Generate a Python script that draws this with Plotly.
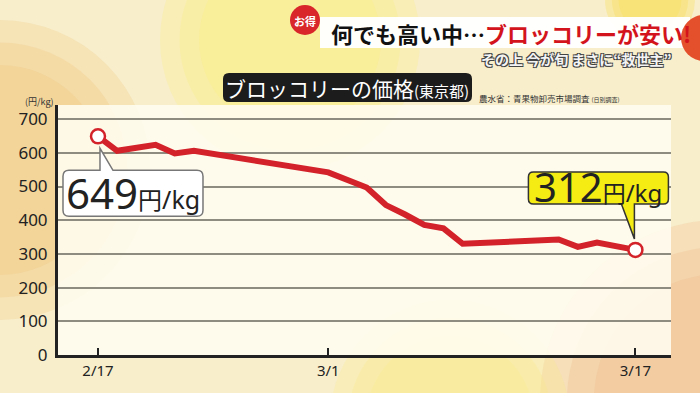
import plotly.graph_objects as go

# ---------------- data ----------------
dates = ["2025-02-17", "2025-02-18", "2025-02-20", "2025-02-21", "2025-02-22",
         "2025-03-01", "2025-03-03", "2025-03-04", "2025-03-05", "2025-03-06",
         "2025-03-07", "2025-03-08", "2025-03-13", "2025-03-14", "2025-03-15",
         "2025-03-17"]
prices = [649, 606, 624, 598, 606, 542, 497, 445, 417, 386, 376, 330, 343, 321, 334, 312]
x_tickvals = ["2025-02-17", "2025-03-01", "2025-03-17"]
x_ticktext = ["2/17", "3/1", "3/17"]
y_tickvals = [0, 100, 200, 300, 400, 500, 600, 700]
y_ticktext = ["0", "100", "200", "300", "400", "500", "600", "700"]

title_text = "ブロッコリーの価格"
title_sub = "(東京都)"
source_text = "農水省：青果物卸売市場調査"
source_sub = "(日別調査)"
unit_text = "(円/kg)"
head_black = "何でも高い中…"
head_red = "ブロッコリーが安い!"
badge_text = "お得"
subhead = "その上 今が旬 まさに“救世主”"
unit_label = "円/kg"

JP = "Noto Sans CJK JP"
NUM = "Noto Sans"
RED = "#d3222a"

# plot area in pixels
L, R, T, B = 58, 671, 105, 355
W, H = R - L, B - T


def pxx(x):
    return (x - L) / W


def pxy(y):
    return (B - y) / H


def rrect(x0, y0, x1, y1, r):
    return (f"M{x0+r},{y1} L{x1-r},{y1} Q{x1},{y1} {x1},{y1-r} L{x1},{y0+r} "
            f"Q{x1},{y0} {x1-r},{y0} L{x0+r},{y0} Q{x0},{y0} {x0},{y0+r} "
            f"L{x0},{y1-r} Q{x0},{y1} {x0+r},{y1} Z")


def pshape(path, fill, line_color=None, line_w=0, layer="below"):
    return dict(type="path", xref="paper", yref="paper", xsizemode="pixel", ysizemode="pixel",
                xanchor=0, yanchor=0, path=path, fillcolor=fill, layer=layer,
                line=dict(color=line_color or fill, width=line_w))


def circ(cx, cy, r, fill, layer="below"):
    X, Y = cx - L, B - cy
    return dict(type="circle", xref="paper", yref="paper", xsizemode="pixel", ysizemode="pixel",
                xanchor=0, yanchor=0, x0=X - r, x1=X + r, y0=Y - r, y1=Y + r,
                fillcolor=fill, line=dict(width=0), layer=layer)


def soft(cx, cy, r, rgb, a):
    # soft-edged blob from stacked translucent circles
    return [circ(cx, cy, r * k, f"rgba({rgb},{a})") for k in (1.0, 0.85, 0.7)]


def jp_ann(x, y, text, size, color, **kw):
    # CJK font metrics push text down; compensate with a yshift
    d = dict(xref="paper", yref="paper", x=pxx(x), y=pxy(y), text=text, showarrow=False,
             yshift=round(0.8 * size), font=dict(family=JP, color=color, size=size))
    d.update(kw)
    return d


fig = go.Figure()
fig.add_trace(go.Scatter(x=dates, y=prices, mode="lines",
                         line=dict(color=RED, width=6), hoverinfo="skip"))
fig.add_trace(go.Scatter(x=[dates[0], dates[-1]], y=[prices[0], prices[-1]], mode="markers",
                         marker=dict(size=14, color="white", line=dict(color=RED, width=2.5)),
                         hoverinfo="skip"))

shapes = []
# background bokeh
shapes += soft(0, 170, 150, "240,196,120", 0.25)
shapes += soft(290, 40, 130, "250,240,120", 0.25)
shapes += soft(720, 400, 180, "238,180,130", 0.25)
shapes += soft(450, 420, 120, "250,236,130", 0.25)
shapes += soft(650, 0, 45, "250,222,80", 0.3)
# plot panel
shapes.append(pshape(f"M0,0 L{W},0 L{W},{H} L0,{H} Z", "rgba(255,253,240,0.88)"))
# header band
shapes.append(pshape(f"M{320-L},{B-48} L{690-L},{B-48} L{690-L},{B-17} L{320-L},{B-17} Z",
                     "rgba(255,255,255,0.97)", layer="above"))
shapes.append(circ(305, 20, 15, "#d8262a", layer="above"))
shapes.append(circ(704, 38, 23, "#e4502c", layer="above"))
# title box
shapes.append(pshape(rrect(223 - L, B - 102, 472 - L, B - 73, 6), "#1c1c1c", layer="above"))

# callout 649 (white) anchored at first point
p0 = dict(type="path", xref="x", yref="y", xsizemode="pixel", ysizemode="pixel",
          xanchor=dates[0], yanchor=prices[0], layer="above",
          fillcolor="white", line=dict(color="#777", width=1.5),
          path=("M-29,-34 L2,-34 L2,-12 L15,-34 L99,-34 Q105,-34 105,-40 L105,-74 "
                "Q105,-80 99,-80 L-29,-80 Q-35,-80 -35,-74 L-35,-40 Q-35,-34 -29,-34 Z"))
shapes.append(p0)
# callout 312 (yellow) anchored at last point
p1 = dict(type="path", xref="x", yref="y", xsizemode="pixel", ysizemode="pixel",
          xanchor=dates[-1], yanchor=prices[-1], layer="above",
          fillcolor="#f4ec12", line=dict(color="#333", width=1.5),
          path=("M-102,46 L-14,46 L-1,11 L-1,46 L28,46 Q33,46 33,51 L33,73 "
                "Q33,78 28,78 L-102,78 Q-107,78 -107,73 L-107,51 Q-107,46 -102,46 Z"))
shapes.append(p1)

ann = []
ann.append(dict(xref="x", yref="y", x=dates[0], y=prices[0], xshift=35, yshift=-56,
                text=f"<span style='font-size:42px'>{prices[0]}</span><span style='font-size:24px;font-family:Noto Sans CJK JP'>円</span><span style='font-size:25px'>/kg</span>",
                showarrow=False, font=dict(family=NUM, color="#222", size=25)))
ann.append(dict(xref="x", yref="y", x=dates[-1], y=prices[-1], xshift=-37, yshift=63,
                text=f"<span style='font-size:40px'>{prices[-1]}</span><span style='font-size:23px;font-family:Noto Sans CJK JP'>円</span><span style='font-size:24px'>/kg</span>",
                showarrow=False, font=dict(family=NUM, color="#222", size=24)))
ann.append(jp_ann(347, 88, f"{title_text}<span style='font-size:15px'>{title_sub}</span>", 21, "white"))
ann.append(jp_ann(477, 97, f"{source_text} <span style='font-size:6px'>{source_sub}</span>", 8.5, "#333",
                  xanchor="left"))
ann.append(jp_ann(56, 100, unit_text, 9, "#333", xanchor="right"))
ann.append(jp_ann(329, 33, f"<b>{head_black}<span style='color:#d4141c'>{head_red}</span></b>", 22, "#111",
                  xanchor="left"))
ann.append(jp_ann(305, 20, f"<b>{badge_text}</b>", 11, "white"))
sub = jp_ann(673, 58, f"<b>{subhead}</b>", 14, "#f4f4f4", xanchor="right")
sub["font"]["shadow"] = "-1px -1px 0 #444, 1px 1px 0 #444, 1px -1px 0 #444, -1px 1px 0 #444"
ann.append(sub)

fig.update_layout(
    width=700, height=393,
    margin=dict(l=L, r=700 - R, t=T, b=393 - B, pad=0),
    paper_bgcolor="#f8eecb",
    plot_bgcolor="rgba(0,0,0,0)",
    showlegend=False,
    shapes=shapes,
    annotations=ann,
    xaxis=dict(type="date", range=["2025-02-14 22:00", "2025-03-18 20:30"],
               tickvals=x_tickvals, ticktext=x_ticktext, showgrid=False,
               ticks="inside", ticklen=7, tickwidth=2, tickcolor="#222",
               showline=True, linecolor="#222", linewidth=3, zeroline=False,
               tickfont=dict(family=NUM, size=15, color="#222"), fixedrange=True),
    yaxis=dict(range=[0, 742], tickvals=y_tickvals, ticktext=y_ticktext,
               showgrid=True, gridcolor="#8e8c80", gridwidth=2,
               showline=True, linecolor="#222", linewidth=3, zeroline=False,
               ticks="", tickfont=dict(family=NUM, size=17, color="#222"),
               ticklabelstandoff=4, fixedrange=True),
)

fig.write_html("out.html", config={"displayModeBar": False},
               post_script="document.body.style.margin='0';document.body.style.overflow='hidden';")
